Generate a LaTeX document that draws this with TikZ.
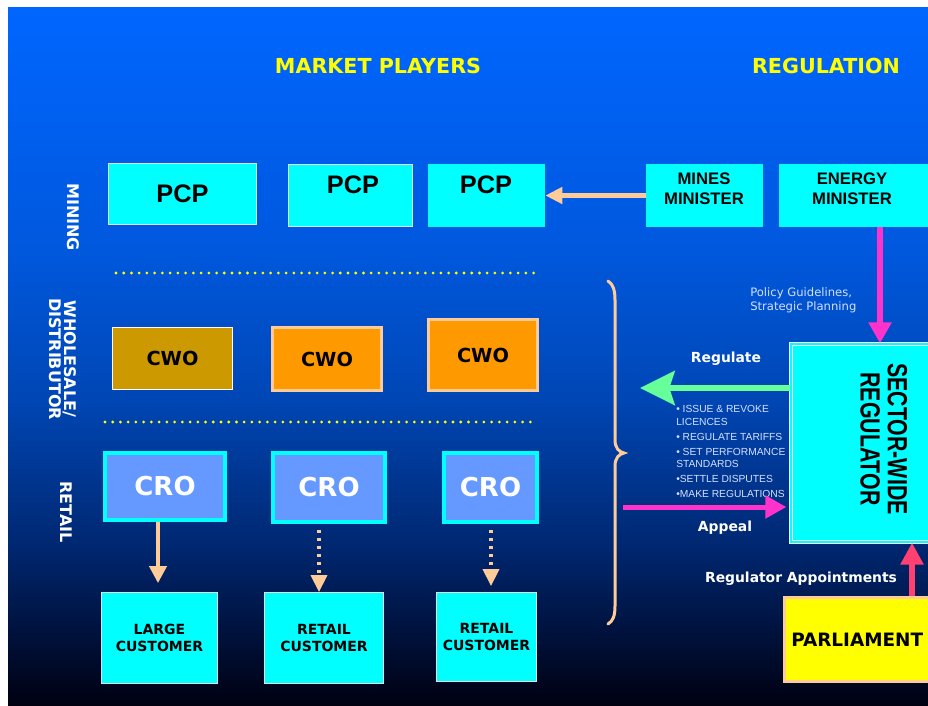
\documentclass[tikz,border=0pt]{standalone}
\usepackage{fontspec}
\usepackage{graphicx}
\usepackage{tikz}
\usetikzlibrary{arrows.meta, calc}
\newfontfamily\verd{DejaVu Sans}
\newfontfamily\arial{Liberation Sans}
\definecolor{bgA}{HTML}{0066FF}
\definecolor{bgB}{HTML}{0058DD}
\definecolor{bgC}{HTML}{0046B4}
\definecolor{bgD}{HTML}{00266E}
\definecolor{bgE}{HTML}{000010}
\definecolor{boxcyan}{HTML}{00FFFF}
\definecolor{edgegrey}{HTML}{E0E0F0}
\definecolor{peach}{HTML}{FFCC99}
\definecolor{cwogold}{HTML}{CC9900}
\definecolor{cwoorange}{HTML}{FF9900}
\definecolor{croblue}{HTML}{6699FF}
\definecolor{magarr}{HTML}{FF33CC}
\definecolor{greenarr}{HTML}{66FF99}
\definecolor{redarr}{HTML}{FF4070}
\definecolor{titleyellow}{HTML}{FFFF00}
\definecolor{lighttext}{HTML}{D4E0FF}

\begin{document}
\begin{tikzpicture}[x=0.75pt, y=-0.75pt,
  box/.style 2 args={rectangle, inner sep=0pt, minimum width=#1*0.75pt, minimum height=#2*0.75pt},
  cyanbox/.style={fill=boxcyan, draw=edgegrey, line width=0.6pt},
  cwobox/.style={fill=cwoorange, draw=peach, line width=2.25pt},
  crobox/.style={fill=croblue, draw=boxcyan, line width=3pt},
  title/.style={font=\verd\bfseries\fontsize{15.5pt}{18pt}\selectfont, text=titleyellow},
  rowlabel/.style={font=\verd\bfseries\fontsize{12pt}{11.25pt}\selectfont, text=white, rotate=-90, align=center},
  pcpfont/.style={font=\arial\bfseries\fontsize{19pt}{22pt}\selectfont},
  minfont/.style={font=\arial\bfseries\fontsize{12.5pt}{15pt}\selectfont, align=center},
  cwofont/.style={font=\verd\bfseries\fontsize{14.5pt}{17pt}\selectfont},
  crofont/.style={font=\verd\bfseries\fontsize{19.5pt}{22pt}\selectfont, text=white},
  custfont/.style={font=\verd\bfseries\fontsize{10.5pt}{12.75pt}\selectfont, align=center},
  whitelabel/.style={font=\verd\bfseries\fontsize{10.4pt}{12pt}\selectfont, text=white},
  yellowdots/.style={draw=titleyellow, line width=2.3pt, line cap=round, dash pattern=on 0pt off 5.8pt},
  peachsolid/.style={draw=peach, line width=3pt, -{Triangle[length=12.75pt, width=12.75pt]}},
  peachdots/.style={draw=peach, line width=2.6pt, dash pattern=on 2.6pt off 3.4pt, -{Triangle[length=12.75pt, width=12pt]}},
  peacharrow/.style={draw=peach, line width=3.75pt, -{Triangle[length=12.75pt, width=12pt]}},
  magarrow/.style={draw=magarr, line width=4.5pt, -{Triangle[length=15.75pt, width=16.5pt]}},
  greenarrow/.style={draw=greenarr, line width=4.5pt, -{Stealth[length=26pt, width=25.5pt, inset=4pt]}},
  redarrow/.style={draw=redarr, line width=4.5pt, -{Triangle[length=16.5pt, width=16.5pt]}}
]
\useasboundingbox (0,0) rectangle (928,706);
\clip (0,0) rectangle (928,706);
\fill[white] (0,0) rectangle (928,706);
\foreach \ya/\yb/\ca/\cb in {8/252/bgA/bgB, 250/402/bgB/bgC, 400/552/bgC/bgD, 550/706/bgD/bgE}
  \shade[top color=\ca, bottom color=\cb] (8,\ya) rectangle (928,\yb);

\node[title] (mkt) at (378,66) {MARKET PLAYERS};
\node[title] (regn) at (826,66) {REGULATION};

\node[rowlabel] (mining) at (73,217) {MINING};
\node[rowlabel] (wholesale) at (63,359) {WHOLESALE/\\DISTRIBUTOR};
\node[rowlabel] (retail) at (66,512) {RETAIL};

\draw[yellowdots] (116,273) -- (540,273);
\draw[yellowdots] (105,422) -- (538,422);

\node[box={148}{61}, cyanbox, pcpfont] (pcpA) at (182.5,194) {PCP};
\node[box={124}{62}, cyanbox] (pcpB) at (350.5,195.5) {};
\node[pcpfont] (pcpBtext) at (353,185) {PCP};
\node[box={117}{63}, fill=boxcyan] (pcpC) at (486.5,195.5) {};
\node[pcpfont] (pcpCtext) at (486,185) {PCP};

\node[box={117}{63}, fill=boxcyan] (mines) at (704.5,195.5) {};
\node[minfont] (minestext) at (704,189) {MINES\\MINISTER};
\node[box={161}{63}, fill=boxcyan] (energy) at (859.5,195.5) {};
\node[minfont] (energytext) at (852,189) {ENERGY\\MINISTER};

\node[box={120}{62}, fill=cwogold, draw=white, line width=0.6pt, cwofont] (cwoA) at (172.5,358.5) {CWO};
\node[box={109}{63}, cwobox, cwofont] (cwoB) at (327,359) {CWO};
\node[box={109}{71}, cwobox, cwofont] (cwoC) at (483,355) {CWO};

\node[box={120}{67}, crobox, crofont] (croA) at (165,486.5) {CRO};
\node[box={112}{69}, crobox, crofont] (croB) at (329,487.5) {CRO};
\node[box={93}{69}, crobox, crofont] (croC) at (490.5,487.5) {CRO};

\node[box={116}{91}, cyanbox, custfont] (custA) at (159.5,638) {LARGE\\CUSTOMER};
\node[box={119}{91}, cyanbox, custfont] (custB) at (324,638) {RETAIL\\CUSTOMER};
\node[box={100}{89}, cyanbox, custfont] (custC) at (486.5,637) {RETAIL\\CUSTOMER};

\node[box={149}{198}, fill=boxcyan, draw=white, double=boxcyan, line width=0.9pt, double distance=1.6pt] (reg) at (865.5,443) {};
\node[font=\arial\bfseries\fontsize{16pt}{15pt}\selectfont, rotate=-90] (regtext) at (880,439)
  {\scalebox{1}[1.3]{\begin{tabular}{@{}c@{}}SECTOR-WIDE\\REGULATOR\end{tabular}}};

\node[box={154}{84}, fill=titleyellow, draw=peach, line width=2.25pt] (parl) at (861.5,639.5) {};
\node[font=\verd\bfseries\fontsize{13.8pt}{16pt}\selectfont, anchor=west, inner sep=0pt] (parltext) at (791,640) {PARLIAMENT};

\draw[peacharrow] (mines.west) -- (pcpC.east);

\coordinate (lax) at (158,0);
\coordinate (rbx) at (319,0);
\coordinate (rcx) at (491,0);
\draw[peachsolid, shorten >=6.75pt] (croA.south -| lax) -- (custA.north -| lax);
\draw[peachdots, shorten <=4.5pt] (croB.south -| rbx) -- (custB.north -| rbx);
\draw[peachdots, shorten <=4.5pt, shorten >=4.5pt] (croC.south -| rcx) -- (custC.north -| rcx);

\draw[peach, line width=2.25pt, line cap=round] (608,281) .. controls (613,284) and (615,290) .. (615,300)
  -- (615,440) .. controls (615,448) and (619,452) .. (624,453) .. controls (619,454) and (615,458) .. (615,466)
  -- (615,606) .. controls (615,616) and (613,621) .. (608,624);

\coordinate (polx) at (880,0);
\draw[magarrow] (energy.south -| polx) -- (reg.north -| polx);
\node[font=\verd\fontsize{8.7pt}{10.5pt}\selectfont, text=lighttext, align=left, anchor=west, inner sep=0pt] (policy) at (750,300)
  {Policy Guidelines,\\Strategic Planning};

\coordinate (regtip) at (640,388);
\draw[greenarrow] (reg.west |- regtip) -- (regtip);
\node[whitelabel] (regulate) at (726,359) {Regulate};

\node[font=\arial\fontsize{7.7pt}{9.6pt}\selectfont, text=lighttext, align=left, anchor=north west, inner sep=0pt] (duties) at (676,405)
  {\textbullet\ ISSUE \& REVOKE\\LICENCES\\[1.6pt]
   \textbullet\ REGULATE TARIFFS\\[1.6pt]
   \textbullet\ SET PERFORMANCE\\STANDARDS\\[1.6pt]
   \textbullet SETTLE DISPUTES\\[1.6pt]
   \textbullet MAKE REGULATIONS};

\coordinate (appealtail) at (623,507);
\draw[magarrow, line width=3.75pt, shorten >=3pt] (appealtail) -- (reg.west |- appealtail);
\node[whitelabel] (appeal) at (725,528) {Appeal};

\coordinate (apx) at (912,0);
\draw[redarrow] (parl.north -| apx) -- (reg.south -| apx);
\node[whitelabel] (appoint) at (801,579) {Regulator Appointments};
\end{tikzpicture}
\end{document}
